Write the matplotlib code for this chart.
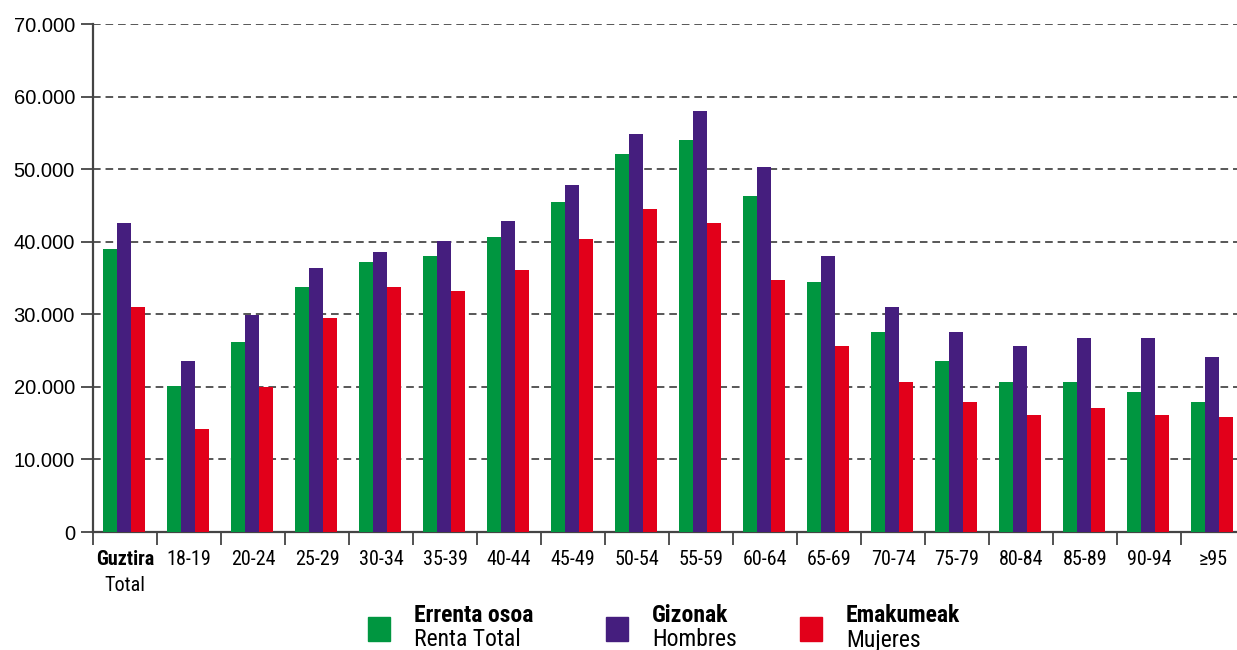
import numpy as np
import matplotlib
matplotlib.use("Agg")
from matplotlib import pyplot as plt
from matplotlib.patches import Rectangle
from matplotlib.transforms import blended_transform_factory

# age groups (first one is the overall total)
groups = ["Guztira", "18-19", "20-24", "25-29", "30-34", "35-39", "40-44", "45-49",
          "50-54", "55-59", "60-64", "65-69", "70-74", "75-79", "80-84", "85-89",
          "90-94", "≥95"]
total_sub = "Total"

renta_total = [39000, 20100, 26200, 33800, 37200, 38000, 40700, 45500, 52100, 54000,
               46300, 34400, 27500, 23600, 20700, 20700, 19300, 17900]
hombres = [42600, 23600, 29900, 36400, 38600, 40100, 42900, 47800, 54800, 58000,
           50300, 38000, 31000, 27600, 25600, 26700, 26700, 24100]
mujeres = [31000, 14200, 20000, 29500, 33800, 33200, 36100, 40400, 44500, 42600,
           34700, 25600, 20700, 17900, 16100, 17100, 16100, 15800]

series_eu = ["Errenta osoa", "Gizonak", "Emakumeak"]
series_es = ["Renta Total", "Hombres", "Mujeres"]
colors = ["#009640", "#451e7e", "#e2001a"]

yticks = np.arange(0, 70001, 10000)

narrow = ["Roboto Condensed", "PT Sans Narrow", "Liberation Sans", "DejaVu Sans"]
plt.rcParams["font.family"] = ["Liberation Sans", "DejaVu Sans"]

W, H = 1237, 650
fig = plt.figure(figsize=(W / 100, H / 100), dpi=100)
ax = fig.add_axes([93 / W, 1 - 532 / H, (1245 - 93) / W, (532 - 24) / H])

x = np.arange(len(groups))
bw = 0.22
for i, vals in enumerate([renta_total, hombres, mujeres]):
    ax.bar(x + (i - 1) * bw - 0.02, vals, width=bw, color=colors[i], zorder=3)

ax.set_xlim(-0.5, len(groups) - 0.5)
ax.set_ylim(0, 70000)
ax.set_yticks(yticks)
ax.set_yticklabels([f"{v:,}".replace(",", ".") for v in yticks], fontsize=14.5)
ax.yaxis.grid(True, linestyle=(0, (5, 3.2)), color="#2a2a2a", linewidth=1.1, zorder=0)

ax.set_xticks(np.arange(len(groups)) - 0.5)
ax.set_xticklabels([])
ax.tick_params(axis="x", which="major", length=9, width=1.3, color="#444444", direction="out")
ax.tick_params(axis="y", length=9, width=1.3, color="#444444", pad=4)

ax.set_xticks(x, minor=True)
ax.set_xticklabels([""] + groups[1:], minor=True, fontsize=14.5, family=narrow)
ax.tick_params(axis="x", which="minor", length=0, pad=13)

trans = blended_transform_factory(ax.transData, ax.transAxes)
ax.text(0, -0.036, groups[0], transform=trans, ha="center", va="top",
        fontsize=14.5, fontweight="bold", family=narrow)
ax.text(0, -0.086, total_sub, transform=trans, ha="center", va="top",
        fontsize=14.5, family=narrow)

for s in ["top", "right"]:
    ax.spines[s].set_visible(False)
for s in ["left", "bottom"]:
    ax.spines[s].set_color("#444444")
    ax.spines[s].set_linewidth(1.6)

# legend at the bottom
leg_x = [368, 606, 800]
for i in range(3):
    fig.patches.append(Rectangle((leg_x[i] / W, 1 - 641 / H), 22 / W, 24 / H,
                                 transform=fig.transFigure, color=colors[i]))
    fig.text((leg_x[i] + 46) / W, 1 - 616 / H, series_eu[i], fontsize=17,
             fontweight="bold", family=narrow, va="center")
    fig.text((leg_x[i] + 46) / W, 1 - 640 / H, series_es[i], fontsize=17,
             family=narrow, va="center")

fig.savefig("out.png", dpi=100)
